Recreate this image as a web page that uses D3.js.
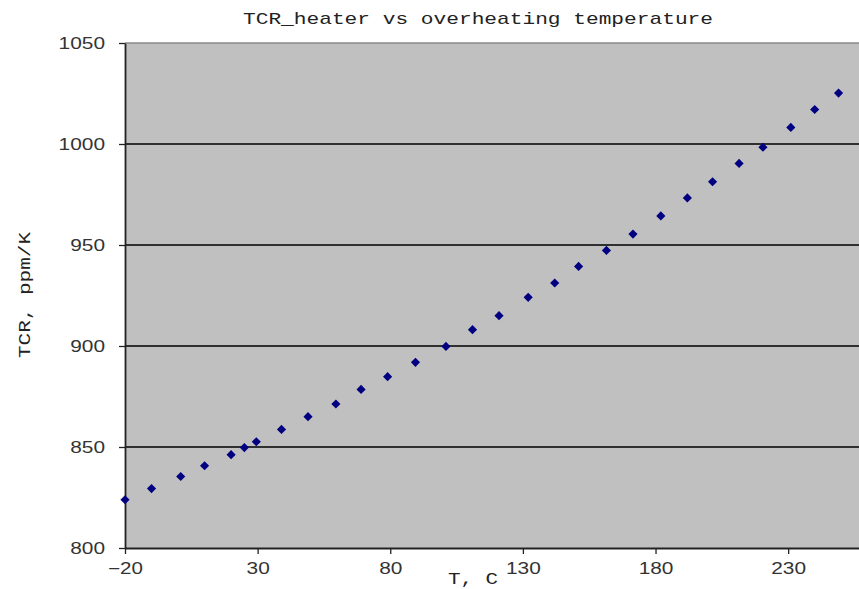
<!DOCTYPE html>
<html>
<head>
<meta charset="utf-8">
<script src="https://cdn.jsdelivr.net/npm/d3@7"></script>
<style>
  html, body { margin: 0; padding: 0; background: #fff; }
  svg { display: block; }
</style>
</head>
<body>
<svg id="chart" width="859" height="589"></svg>
<script>
// Overheating temperature, C
const temperature = [-20, -10, 1, 10, 20, 25, 29.5, 39, 49, 59.5, 69, 79, 89.5, 101, 111, 121,
  132, 142, 151, 161.5, 171.5, 182, 192, 201.5, 211.5, 220.5, 231, 240, 249];
// Heater TCR, ppm/K
const tcr = [823.9, 829.4, 835.4, 840.7, 846.2, 849.7, 852.6, 858.7, 865, 871.3, 878.5, 884.8, 891.9,
  899.8, 908.1, 915, 924.1, 931.2, 939.4, 947.3, 955.4, 964.4, 973.3, 981.3, 990.4, 998.4,
  1008.2, 1017.1, 1025.2];
const xTicks = [-20, 30, 80, 130, 180, 230];
const yTicks = [800, 850, 900, 950, 1000, 1050];

const svg = d3.select("#chart");
const plot = { left: 125, top: 43, bottom: 548, right: 881 };

const x = d3.scaleLinear().domain([-20, 265]).range([plot.left, plot.right]);
const y = d3.scaleLinear().domain([800, 1050]).range([plot.bottom, plot.top]);

// plot area
svg.append("rect")
  .attr("x", plot.left).attr("y", plot.top)
  .attr("width", plot.right - plot.left).attr("height", plot.bottom - plot.top)
  .attr("fill", "#c0c0c0");

// horizontal gridlines
svg.append("g").selectAll("line")
  .data(yTicks.filter(v => v > 800 && v < 1050))
  .join("line")
  .attr("x1", plot.left).attr("x2", plot.right)
  .attr("y1", d => y(d)).attr("y2", d => y(d))
  .attr("stroke", "#000").attr("stroke-width", 1.3);

// top border
svg.append("line")
  .attr("x1", plot.left).attr("x2", plot.right)
  .attr("y1", plot.top).attr("y2", plot.top)
  .attr("stroke", "#8a8a8a").attr("stroke-width", 1.5);

// axes
const plain = d => (d < 0 ? "\u2212" : "") + Math.abs(d);
const yAxis = svg.append("g")
  .attr("transform", `translate(${plot.left},0)`)
  .call(d3.axisLeft(y).tickValues(yTicks).tickFormat(plain)
    .tickSize(6).tickPadding(14).tickSizeOuter(0));
const xAxis = svg.append("g")
  .attr("transform", `translate(0,${plot.bottom})`)
  .call(d3.axisBottom(x).tickValues(xTicks).tickFormat(plain)
    .tickSize(6).tickPadding(9).tickSizeOuter(0));

[yAxis, xAxis].forEach(g => {
  g.select(".domain").attr("stroke", "#222").attr("stroke-width", 1.8);
  g.selectAll(".tick line").attr("stroke", "#222").attr("stroke-width", 1.3);
  g.selectAll(".tick text")
    .attr("fill", "#333")
    .attr("font-family", "'Liberation Sans', Arial, sans-serif")
    .attr("font-size", 16)
    .attr("lengthAdjust", "spacingAndGlyphs")
    .attr("textLength", d => String(d).length * 11.6);
});
yAxis.selectAll(".tick text").attr("dy", "0.36em");

// data points (diamonds: squares turned 45 degrees)
const marker = d3.symbol().type(d3.symbolSquare).size(42);
svg.append("g").selectAll("path")
  .data(temperature.map((t, i) => [t, tcr[i]]))
  .join("path")
  .attr("d", marker)
  .attr("transform", d => `translate(${x(d[0])},${y(d[1])}) rotate(45)`)
  .attr("fill", "#000080");

// title and axis labels
const mono = "'Liberation Mono', 'Courier New', monospace";
svg.append("text")
  .attr("x", 478).attr("y", 24)
  .attr("text-anchor", "middle")
  .attr("font-family", mono).attr("font-size", 17)
  .attr("fill", "#222")
  .attr("lengthAdjust", "spacingAndGlyphs").attr("textLength", 470)
  .text("TCR_heater vs overheating temperature");

svg.append("text")
  .attr("x", 473).attr("y", 584)
  .attr("text-anchor", "middle")
  .attr("font-family", mono).attr("font-size", 17)
  .attr("fill", "#222")
  .attr("lengthAdjust", "spacingAndGlyphs").attr("textLength", 50)
  .text("T, C");

svg.append("text")
  .attr("transform", "translate(30,295) rotate(-90)")
  .attr("text-anchor", "middle")
  .attr("font-family", mono).attr("font-size", 17)
  .attr("fill", "#222")
  .attr("lengthAdjust", "spacingAndGlyphs").attr("textLength", 126)
  .text("TCR, ppm/K");
</script>
</body>
</html>
